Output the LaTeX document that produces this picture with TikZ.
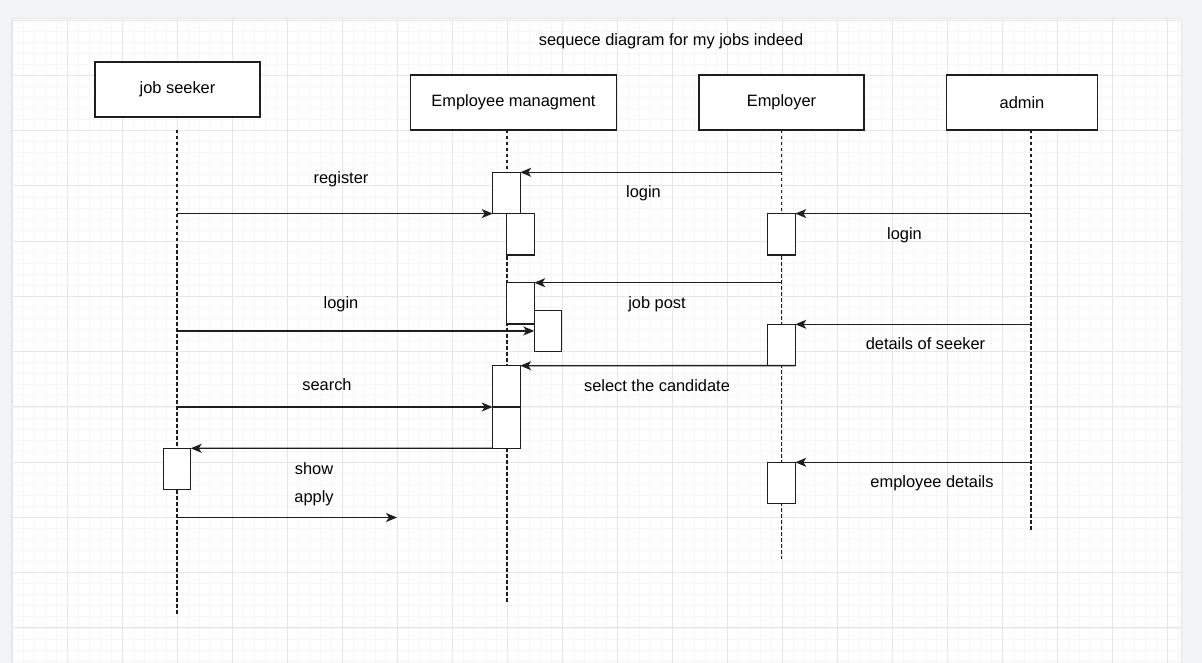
\documentclass[tikz,border=0pt]{standalone}
\usepackage{fontspec}
\setmainfont{Liberation Sans}
\usetikzlibrary{arrows.meta}
\definecolor{bgout}{HTML}{F1F3F4}
\definecolor{gridmaj}{HTML}{E6E6E6}
\definecolor{gridmin}{HTML}{F6F6F6}
\definecolor{ink}{HTML}{1E1E1E}

\begin{document}
\begin{tikzpicture}[x=1pt, y=-1pt,
  head/.style={draw=ink, line width=1.4pt, fill=white, minimum height=55pt, inner sep=0pt, outer sep=0pt},
  act/.style={draw=ink, line width=1.3pt, fill=white, minimum width=27.5pt, minimum height=41.3pt, inner sep=0pt, outer sep=0pt, anchor=north west},
  life/.style={draw=ink, line width=1.3pt, dash pattern=on 3.5pt off 2.5pt},
  msg/.style={-{Stealth[length=11pt,width=9pt,inset=3pt]}, draw=ink, line width=1.3pt},
  lbl/.style={inner sep=0pt, text height=11.5pt, text depth=0pt, text=black},
  font=\fontsize{16.4}{19}\selectfont]

\useasboundingbox (0,0) rectangle (1202,663);
\fill[bgout] (0,0) rectangle (1202,663);
\fill[white] (11,18) rectangle (1181,663);
\draw[gridmaj, line width=.8pt] (11,663) -- (11,18) -- (1181,18) -- (1181,663);

% grid
\begin{scope}
\clip (11,18) rectangle (1181,663);
\foreach \i in {0,...,106} \draw[gridmin, line width=.7pt] ({12+11*\i},18) -- ({12+11*\i},663);
\foreach \i in {0,...,58} \draw[gridmin, line width=.7pt] (11,{20.1+11.05*\i}) -- (1181,{20.1+11.05*\i});
\foreach \i in {0,...,21} \draw[gridmaj, line width=.9pt] ({12+55*\i},18) -- ({12+55*\i},663);
\foreach \i in {0,...,11} \draw[gridmaj, line width=.9pt] (11,{20.1+55.25*\i}) -- (1181,{20.1+55.25*\i});
\end{scope}

\node[lbl] (title) at (671,40) {sequece diagram for my jobs indeed};

\node[head, minimum width=165pt] (js) at (177.5,89.5) {job seeker};
\node[head, minimum width=206pt] (em) at (513.5,102.5) {Employee managment};
\node[head, minimum width=165pt] (er) at (781.5,102.5) {Employer};
\node[head, minimum width=151pt] (ad) at (1022,102.5) {admin};

% lifelines
\coordinate (jsl) at (177,130);  \coordinate (jsl-end) at (177,614);
\coordinate (eml) at (507,130);  \coordinate (eml-end) at (507,602);
\coordinate (erl) at (781.5,130); \coordinate (erl-end) at (781.5,559);
\coordinate (adl) at (1031,130); \coordinate (adl-end) at (1031,531);
\draw[life] (jsl) -- (jsl-end);
\draw[life] (eml) -- (eml-end);
\draw[life] (erl) -- (erl-end);
\draw[life] (adl) -- (adl-end);

% activations
\node[act] (em1) at (492.7,172.3) {};
\node[act] (em2) at (506.7,213.6) {};
\node[act] (er1) at (767.8,213.6) {};
\node[act] (em3) at (506.7,282.7) {};
\node[act] (em4) at (534.3,310.3) {};
\node[act] (er2) at (767.8,324.3) {};
\node[act] (em5) at (492.7,365.7) {};
\node[act] (em6) at (492.7,407) {};
\node[act] (er3) at (767.8,462.3) {};
\node[act] (js1) at (163.2,448.3) {};
\coordinate (applyend) at (397,517.5);

% messages
\draw[msg] (jsl |- em1.south west) -- (em1.south west);
\draw[msg] (erl |- em1.north east) -- (em1.north east);
\draw[msg] (adl |- er1.north east) -- (er1.north east);
\draw[msg] (erl |- em3.north east) -- (em3.north east);
\draw[msg] (jsl |- em4.west) -- (em4.west);
\draw[msg] (adl |- er2.north east) -- (er2.north east);
\draw[msg] (er2.south east) -- (em5.north east);
\draw[msg] (jsl |- em5.south west) -- (em5.south west);
\draw[msg] (em6.south west) -- (js1.north east);
\draw[msg] (jsl |- applyend) -- (applyend);
\draw[msg] (adl |- er3.north east) -- (er3.north east);

\node[lbl] (l-register) at (341,178) {register};
\node[lbl] (l-login1) at (643.5,192) {login};
\node[lbl] (l-login2) at (904.5,233.5) {login};
\node[lbl] (l-jobpost) at (657,303) {job post};
\node[lbl] (l-login3) at (341,302.5) {login};
\node[lbl] (l-seeker) at (925.5,343.5) {details of seeker};
\node[lbl] (l-select) at (657,385.5) {select the candidate};
\node[lbl] (l-search) at (327,385) {search};
\node[lbl] (l-show) at (314,469) {show};
\node[lbl] (l-apply) at (314,496.5) {apply};
\node[lbl] (l-empdet) at (932,482) {employee details};

\end{tikzpicture}
\end{document}
